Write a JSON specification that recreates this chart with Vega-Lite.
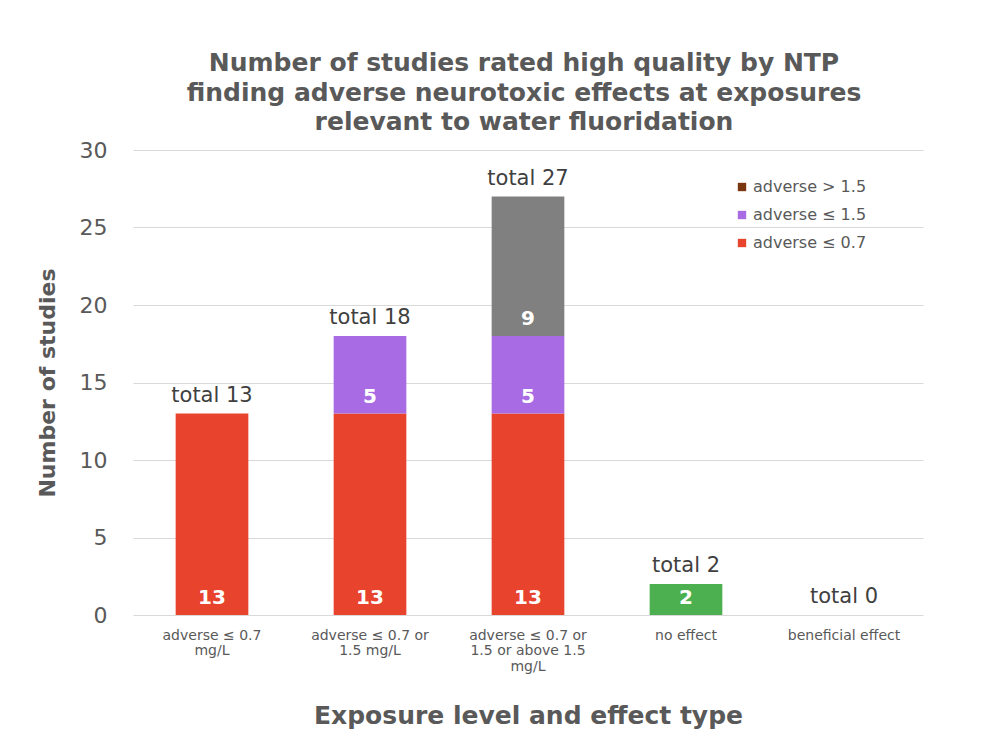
{
  "$schema": "https://vega.github.io/schema/vega-lite/v6.json",
  "autosize": {"type": "none"},
  "width": 790,
  "height": 465,
  "padding": {"left": 133, "top": 150, "right": 60, "bottom": 141},
  "background": "white",
  "config": {
    "font": "DejaVu Sans",
    "view": {"stroke": null},
    "axis": {"labelFont": "DejaVu Sans", "titleFont": "DejaVu Sans"},
    "legend": {"labelFont": "DejaVu Sans"}
  },
  "title": {
    "text": ["Number of studies rated high quality by NTP", "finding adverse neurotoxic effects at exposures", "relevant to water fluoridation"],
    "font": "DejaVu Sans",
    "fontSize": 25,
    "fontWeight": "bold",
    "color": "#595959",
    "lineHeight": 29.5,
    "anchor": "middle",
    "dx": -4,
    "offset": 4
  },
  "datasets": {
    "bars": [
      {"category": "adverse ≤ 0.7 mg/L", "series": "adverse ≤ 0.7", "layer": 1, "value": 13},
      {"category": "adverse ≤ 0.7 or 1.5 mg/L", "series": "adverse ≤ 0.7", "layer": 1, "value": 13},
      {"category": "adverse ≤ 0.7 or 1.5 mg/L", "series": "adverse ≤ 1.5", "layer": 2, "value": 5},
      {"category": "adverse ≤ 0.7 or 1.5 or above 1.5 mg/L", "series": "adverse ≤ 0.7", "layer": 1, "value": 13},
      {"category": "adverse ≤ 0.7 or 1.5 or above 1.5 mg/L", "series": "adverse ≤ 1.5", "layer": 2, "value": 5},
      {"category": "adverse ≤ 0.7 or 1.5 or above 1.5 mg/L", "series": "adverse > 1.5", "layer": 3, "value": 9},
      {"category": "no effect", "series": "no effect", "layer": 1, "value": 2}
    ],
    "totals": [
      {"category": "adverse ≤ 0.7 mg/L", "total": 13, "label": "total 13"},
      {"category": "adverse ≤ 0.7 or 1.5 mg/L", "total": 18, "label": "total 18"},
      {"category": "adverse ≤ 0.7 or 1.5 or above 1.5 mg/L", "total": 27, "label": "total 27"},
      {"category": "no effect", "total": 2, "label": "total 2"},
      {"category": "beneficial effect", "total": 0, "label": "total 0"}
    ]
  },
  "encoding": {
    "x": {
      "field": "category",
      "type": "nominal",
      "sort": null,
      "scale": {
        "domain": ["adverse ≤ 0.7 mg/L", "adverse ≤ 0.7 or 1.5 mg/L", "adverse ≤ 0.7 or 1.5 or above 1.5 mg/L", "no effect", "beneficial effect"],
        "paddingInner": 0.54,
        "paddingOuter": 0.27
      },
      "axis": {
        "title": "Exposure level and effect type",
        "titleFontSize": 25,
        "titleFontWeight": "bold",
        "titleColor": "#595959",
        "titlePadding": 30,
        "labelAngle": 0,
        "labelFontSize": 14,
        "labelColor": "#595959",
        "labelPadding": 13,
        "labelLineHeight": 15.5,
        "labelLimit": 200,
        "domain": false,
        "ticks": false,
        "labelExpr": "datum.value == 'adverse ≤ 0.7 mg/L' ? ['adverse ≤ 0.7', 'mg/L'] : datum.value == 'adverse ≤ 0.7 or 1.5 mg/L' ? ['adverse ≤ 0.7 or', '1.5 mg/L'] : datum.value == 'adverse ≤ 0.7 or 1.5 or above 1.5 mg/L' ? ['adverse ≤ 0.7 or', '1.5 or above 1.5', 'mg/L'] : datum.value"
      }
    }
  },
  "layer": [
    {
      "data": {"name": "bars"},
      "mark": {"type": "bar"},
      "encoding": {
        "y": {
          "field": "value",
          "type": "quantitative",
          "stack": "zero",
          "scale": {"domain": [0, 30]},
          "axis": {
            "title": "Number of studies",
            "titleFontSize": 22,
            "titleFontWeight": "bold",
            "titleColor": "#595959",
            "titlePadding": 20,
            "values": [0, 5, 10, 15, 20, 25, 30],
            "labelFontSize": 22,
            "labelColor": "#595959",
            "labelPadding": 26,
            "domain": false,
            "ticks": false,
            "gridColor": "#d9d9d9",
            "gridWidth": 1
          }
        },
        "order": {"field": "layer", "type": "quantitative"},
        "color": {
          "condition": {"test": "datum.series === 'adverse > 1.5'", "value": "#808080"},
          "field": "series",
          "type": "nominal",
          "scale": {
            "domain": ["adverse > 1.5", "adverse ≤ 1.5", "adverse ≤ 0.7", "no effect"],
            "range": ["#7a3511", "#a96be3", "#e8432d", "#4caf50"]
          },
          "legend": {
            "title": null,
            "values": ["adverse > 1.5", "adverse ≤ 1.5", "adverse ≤ 0.7"],
            "orient": "none",
            "legendX": 601,
            "legendY": 29,
            "symbolType": "square",
            "symbolSize": 70,
            "labelFontSize": 16,
            "labelColor": "#595959",
            "rowPadding": 12,
            "labelOffset": 3
          }
        }
      }
    },
    {
      "data": {"name": "bars"},
      "transform": [
        {"stack": "value", "groupby": ["category"], "sort": [{"field": "layer"}], "as": ["v0", "v1"]}
      ],
      "mark": {"type": "text", "color": "white", "fontWeight": "bold", "fontSize": 20, "baseline": "middle", "dy": -17},
      "encoding": {
        "y": {"field": "v0", "type": "quantitative"},
        "text": {"field": "value", "type": "quantitative"}
      }
    },
    {
      "data": {"name": "totals"},
      "mark": {"type": "text", "color": "#404040", "fontSize": 21, "baseline": "middle", "dy": -18},
      "encoding": {
        "y": {"field": "total", "type": "quantitative"},
        "text": {"field": "label", "type": "nominal"}
      }
    }
  ]
}
